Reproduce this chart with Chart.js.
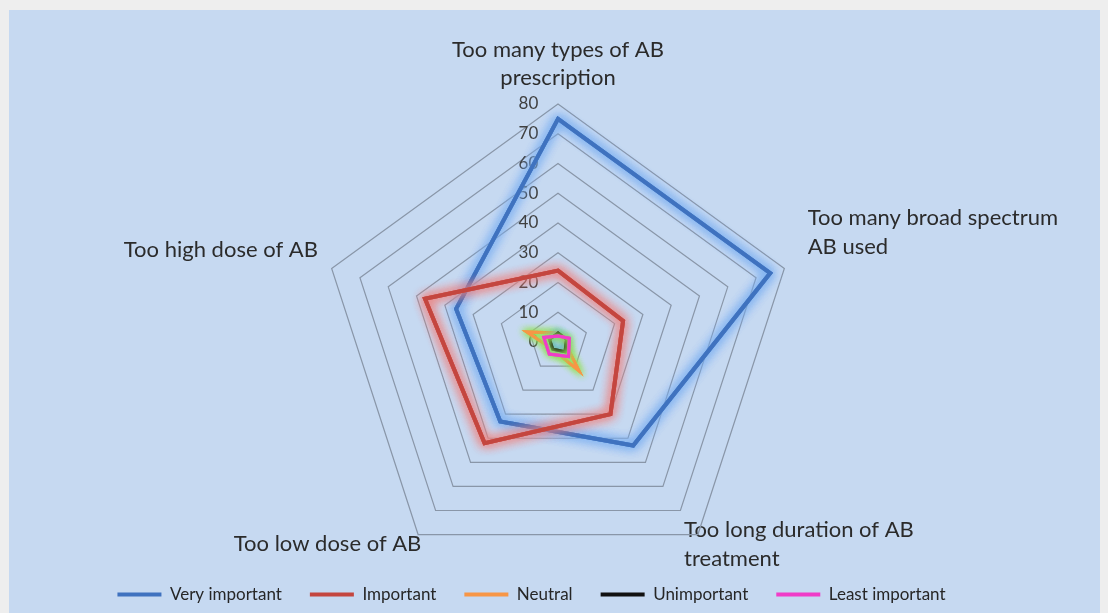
<!DOCTYPE html>
<html>
<head>
    <title>Reasons for inappropriate AB use</title>
    <script src="https://cdn.jsdelivr.net/npm/chart.js"></script>
    <style>
        body {
            margin: 0;
            background-color: #eeeeee;
        }
        .chart-box {
            position: absolute;
            left: 9px;
            top: 10px;
            width: 1091px;
            height: 603px;
            background-color: #c6d9f1;
        }
    </style>
</head>
<body>
    <div class="chart-box">
        <canvas id="radarChart"></canvas>
    </div>

    <script>
        const categories = [
            ["Too many types of AB", "prescription"],
            ["Too many broad spectrum", "AB used"],
            ["Too long duration of AB", "treatment"],
            "Too low dose of AB",
            "Too high dose of AB"
        ];
        const seriesNames = ["Very important", "Important", "Neutral", "Unimportant", "Least important"];
        const veryImportant = [75, 75, 43, 33, 36];
        const important = [24, 23, 30, 42, 47];
        const neutral = [3, 2, 12, 3, 11];
        const unimportant = [3, 3, 4, 3, 3];
        const leastImportant = [2, 4, 6, 5, 5];
        const tickMax = 80;
        const tickStep = 10;

        const lineColors = ["#3f72bf", "#c4463f", "#f79646", "#111111", "#f03cc8"];
        const glowColors = ["rgba(115,170,240,1)", "rgba(240,125,120,1)", "rgba(150,225,90,1)", "rgba(90,170,225,1)", "rgba(150,225,90,1)"];
        const seriesData = [veryImportant, important, neutral, unimportant, leastImportant];

        // Excel-like glow round each line: a few shadowed passes of the line element
        const glowPlugin = {
            id: "glow",
            beforeDatasetDraw(chart, args) {
                const ds = chart.data.datasets[args.index];
                const c = chart.ctx;
                c.save();
                c.shadowColor = ds.glowColor;
                c.shadowBlur = ds.glowBlur;
                for (let k = 0; k < 2; k++) {
                    args.meta.dataset.draw(c, chart.chartArea);
                }
            },
            afterDatasetDraw(chart) {
                chart.ctx.restore();
            }
        };

        const datasets = seriesNames.map((name, i) => ({
            label: name,
            data: seriesData[i],
            borderColor: lineColors[i],
            backgroundColor: lineColors[i],
            borderWidth: i < 2 ? 4 : 3,
            pointRadius: 0,
            fill: false,
            glowColor: glowColors[i],
            glowBlur: i < 2 ? 11 : 7,
            order: seriesNames.length - i
        }));

        const ctx = document.getElementById("radarChart").getContext("2d");
        new Chart(ctx, {
            type: "radar",
            data: {
                labels: categories,
                datasets: datasets
            },
            plugins: [glowPlugin],
            options: {
                responsive: true,
                maintainAspectRatio: false,
                animation: false,
                layout: {
                    padding: { top: 0, bottom: 0, left: 0, right: 46 }
                },
                plugins: {
                    tooltip: { enabled: false },
                    legend: {
                        position: "bottom",
                        labels: {
                            boxWidth: 44,
                            boxHeight: 4,
                            padding: 28,
                            color: "#262626",
                            font: { family: "Lato", size: 17 },
                            generateLabels: (chart) => chart.data.datasets.map((ds, i) => ({
                                text: ds.label,
                                fillStyle: ds.borderColor,
                                strokeStyle: ds.borderColor,
                                lineWidth: 0,
                                fontColor: "#262626",
                                hidden: false,
                                datasetIndex: i
                            }))
                        }
                    }
                },
                scales: {
                    r: {
                        min: -0.01,
                        max: tickMax,
                        // keep the plot area where Excel put it
                        afterSetDimensions: (s) => {
                            s.xCenter = 549;
                            s.yCenter = 332;
                            s.drawingArea = 238;
                            s.top = 0;
                            s.bottom = s.chart.height;
                            s.right = s.chart.width;
                        },
                        angleLines: { display: false },
                        grid: {
                            circular: false,
                            color: "#8996a8",
                            lineWidth: 1.2
                        },
                        ticks: {
                            stepSize: tickStep,
                            showLabelBackdrop: false,
                            color: "#404040",
                            font: { family: "Lato", size: 17 },
                            callback: (v) => {
                                const s = String(Math.round(v));
                                return s + "\u2007".repeat(s.length + 4);
                            }
                        },
                        pointLabels: {
                            color: "#2b2b2b",
                            font: { family: "Lato", size: 22, lineHeight: 1.3 },
                            padding: (c) => [1, 14, -34, -16, 4][c.index]
                        }
                    }
                }
            }
        });
    </script>
</body>
</html>
